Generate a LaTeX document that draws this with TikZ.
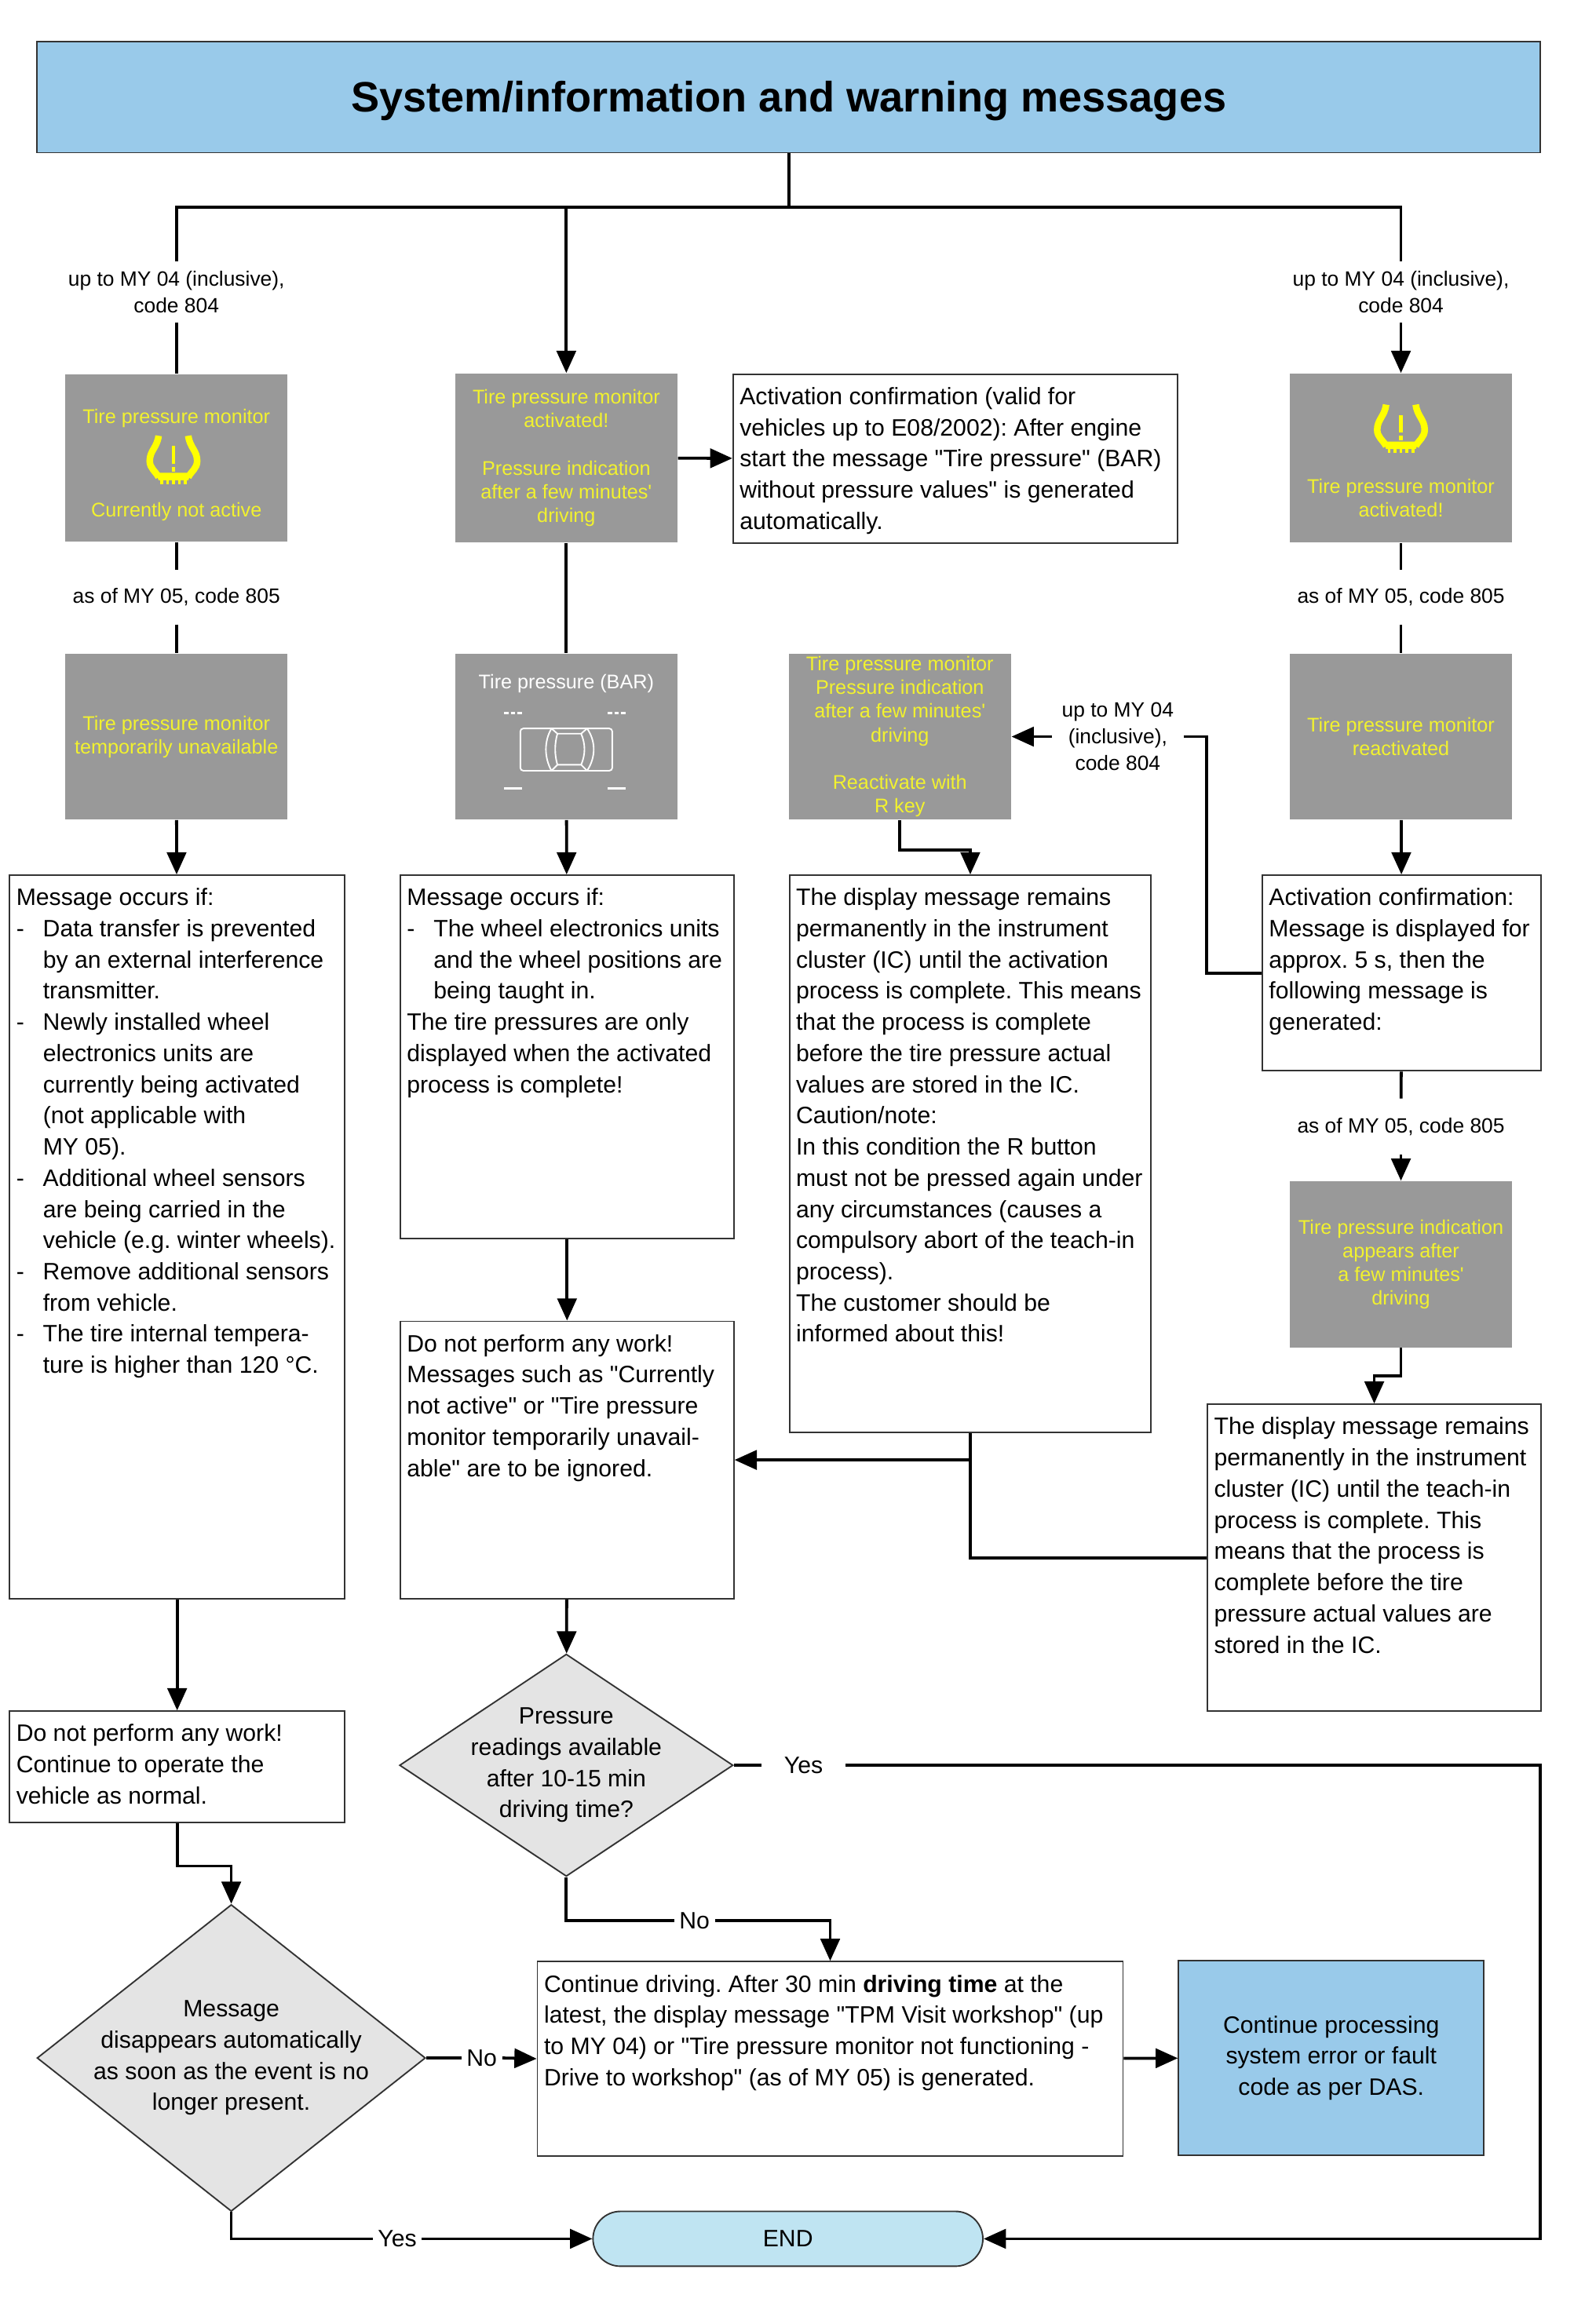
\documentclass[tikz,border=0pt]{standalone}
\usepackage{fontspec}
\setmainfont{Liberation Sans}[Ligatures=TeXOff]
\usetikzlibrary{arrows.meta, shapes.geometric, shapes.misc}

\newlength{\ul}
\setlength{\ul}{0.2mm}
\definecolor{headblue}{HTML}{99CAEA}
\definecolor{endblue}{HTML}{BFE4F2}
\definecolor{screengray}{HTML}{999999}
\definecolor{screenyellow}{HTML}{F2F22E}
\definecolor{iconyellow}{HTML}{FFFF00}
\definecolor{diamondgray}{HTML}{E4E4E4}
\definecolor{edgegray}{HTML}{333333}

\newcommand{\bodyfont}{\fontsize{9.1}{11.97}\selectfont\frenchspacing}
\newcommand{\screenfont}{\fontsize{7.6}{9.07}\selectfont}
\newcommand{\msg}[3]{\parbox[c][\dimexpr#2\ul-10\ul\relax][t]{\dimexpr#1\ul-9\ul\relax}{\raggedright\rule{0pt}{15.5\ul}#3}}
\newcommand{\li}{\makebox[18\ul][l]{-}}
\newcommand{\ind}{\hspace*{18\ul}}

\tikzset{
    link/.style={line width=0.4mm},
    flow/.style={line width=0.4mm, -{Triangle[length=3mm,width=2.6mm]}},
    msgbox/.style={draw=edgegray, line width=1\ul, fill=white, inner xsep=4.5\ul, inner ysep=5\ul, anchor=north west, font=\bodyfont},
    screen/.style={fill=screengray, inner sep=0pt, minimum width=150\ul, minimum height=113\ul, align=center, text=screenyellow, font=\screenfont},
    screentext/.style={inner sep=0pt, align=center, text=screenyellow, font=\screenfont},
    lbl/.style={inner sep=0pt, align=center, fill=white, font=\fontsize{7.95}{10.2}\selectfont},
    edgetext/.style={inner sep=0pt, align=center, font=\bodyfont, minimum height=16\ul},
    decide/.style={diamond, draw=edgegray, line width=1\ul, fill=diamondgray, inner sep=0pt},
    decidetext/.style={inner sep=0pt, align=center, font=\bodyfont},
    tirewarn/.pic={
        \draw[iconyellow, line width=4.5\ul] (-10,-16) .. controls (-11,-8) and (-16,-6) .. (-16,1) .. controls (-16,6) and (-12,8) .. (-10,12);
        \draw[iconyellow, line width=4.5\ul] (10,-16) .. controls (11,-8) and (16,-6) .. (16,1) .. controls (16,6) and (12,8) .. (10,12);
        \fill[iconyellow] (-12,9) -- (12,9) -- (10,14) -- (-10,14) -- cycle;
        \foreach \tx in {-8,-4,0,4,8}
            \fill[iconyellow] (\tx-1,14) rectangle (\tx+1,16.5);
        \fill[iconyellow] (-1.2,-9) rectangle (1.2,3);
        \fill[iconyellow] (-1.2,5) rectangle (1.2,8);
    }
}

\begin{document}
\begin{tikzpicture}[x=0.2mm, y=-0.2mm]
    \useasboundingbox (0,0) rectangle (1061.7,1568);

    % title and top rail
    \node[draw=edgegray, line width=1\ul, fill=headblue, minimum width=1014\ul, minimum height=75\ul, inner sep=0pt, font=\fontsize{16.3}{20}\selectfont\bfseries] (title) at (532,65.5) {\raisebox{-2mm}[0pt][0pt]{System/information and warning messages}};
    \coordinate (hub) at (532,140);

    % left column
    \node[lbl, minimum height=41\ul] (upL) at (119,197) {up to MY 04 (inclusive),\\code 804};
    \node[screen] (notact) at (119,309) {};
    \node[screentext] (notactA) at (119,282) {Tire pressure monitor};
    \node[screentext] (notactB) at (119,345) {Currently not active};
    \pic at (117,310) {tirewarn};
    \node[lbl, minimum height=36\ul] (asL) at (119,403) {as of MY 05, code 805};
    \node[screen, minimum height=112\ul] (unavail) at (119,497) {Tire pressure monitor\\temporarily unavailable};
    \node[msgbox] (occurL) at (6,590) {\msg{226}{488}{Message occurs if:\\
        \li Data transfer is prevented\\
        \ind by an external interference\\
        \ind transmitter.\\
        \li Newly installed wheel\\
        \ind electronics units are\\
        \ind currently being activated\\
        \ind (not applicable with\\
        \ind MY 05).\\
        \li Additional wheel sensors\\
        \ind are being carried in the\\
        \ind vehicle (e.g. winter wheels).\\
        \li Remove additional sensors\\
        \ind from vehicle.\\
        \li The tire internal tempera-\\
        \ind ture is higher than 120 °C.}};
    \node[msgbox] (nowork) at (6,1154) {\msg{226}{75}{Do not perform any work!\\Continue to operate the\\vehicle as normal.}};
    \node[decide, minimum width=262\ul, minimum height=207\ul, label={[decidetext]center:Message\\disappears automatically\\as soon as the event is no\\longer present.}] (gone) at (156,1388.5) {};

    % middle column
    \node[screen, minimum height=114\ul] (activated) at (382,309) {Tire pressure monitor\\activated!\\[9.07pt]Pressure indication\\after a few minutes'\\driving};
    \node[msgbox, minimum height=114\ul] (confirm) at (494,252) {\msg{300}{114}{Activation confirmation (valid for\\vehicles up to E08/2002): After engine\\start the message "Tire pressure" (BAR)\\without pressure values" is generated\\automatically.}};
    \node[screen, minimum height=112\ul] (bar) at (382,497) {};
    \node[screentext, text=white] (barT) at (382,461) {Tire pressure (BAR)};
    % car symbol
    \draw[white, line width=1\ul, rounded corners=2\ul] (351,491.5) rectangle (413,520);
    \draw[white, line width=1\ul] (372,491.5) .. controls (367,500) and (367,511) .. (372,520);
    \draw[white, line width=1\ul] (376,495) .. controls (374,502) and (374,509) .. (376,516);
    \draw[white, line width=1\ul] (396,491.5) .. controls (402,500) and (402,511) .. (396,520);
    \draw[white, line width=1\ul] (392,495) .. controls (395,502) and (395,509) .. (392,516);
    \draw[white, line width=1\ul] (372,491.5) -- (376,495) -- (392,495) -- (396,491.5);
    \draw[white, line width=1\ul] (372,520) -- (376,516) -- (392,516) -- (396,520);
    \foreach \dx in {340,410} {
        \draw[white, line width=1.4\ul, dash pattern=on 3\ul off 1.5\ul] (\dx,481) -- ++(12,0);
        \draw[white, line width=1.4\ul] (\dx,532) -- ++(12,0);
    }
    \node[msgbox] (occurM) at (269.5,590) {\msg{225}{245}{Message occurs if:\\
        \li The wheel electronics units\\
        \ind and the wheel positions are\\
        \ind being taught in.\\
        The tire pressures are only\\displayed when the activated\\process is complete!}};
    \node[msgbox] (ignore) at (269.5,891) {\msg{225}{187}{Do not perform any work!\\Messages such as "Currently\\not active" or "Tire pressure\\monitor temporarily unavail-\\able" are to be ignored.}};
    \node[decide, minimum width=225\ul, minimum height=150\ul, label={[decidetext]center:Pressure\\readings available\\after 10-15 min\\driving time?}] (readings) at (382,1191) {};

    % display message column
    \node[screen, minimum height=112\ul] (rkey) at (607,497) {Tire pressure monitor\\Pressure indication\\after a few minutes'\\driving\\[9.07pt]Reactivate with\\R key};
    \node[lbl, minimum width=88\ul] (upM) at (754,497) {up to MY 04\\(inclusive),\\code 804};
    \node[msgbox] (remainA) at (532,590) {\msg{244}{376}{The display message remains\\permanently in the instrument\\cluster (IC) until the activation\\process is complete. This means\\that the process is complete\\before the tire pressure actual\\values are stored in the IC.\\Caution/note:\\In this condition the R button\\must not be pressed again under\\any circumstances (causes a\\compulsory abort of the teach-in\\process).\\The customer should be\\informed about this!}};

    % right column
    \node[lbl, minimum height=41\ul] (upR) at (945,197) {up to MY 04 (inclusive),\\code 804};
    \node[screen, minimum height=114\ul] (actR) at (945,309) {};
    \pic at (945,289) {tirewarn};
    \node[screentext] (actRT) at (945,336) {Tire pressure monitor\\activated!};
    \node[lbl, minimum height=36\ul] (asR) at (945,403) {as of MY 05, code 805};
    \node[screen, minimum height=112\ul] (react) at (945,497) {Tire pressure monitor\\reactivated};
    \node[msgbox] (confirmR) at (851,590) {\msg{188}{132}{Activation confirmation:\\Message is displayed for\\approx. 5 s, then the\\following message is\\generated:}};
    \node[lbl, minimum height=37\ul] (asS) at (945,760) {as of MY 05, code 805};
    \node[screen, minimum height=112\ul] (appears) at (945,853) {Tire pressure indication\\appears after\\a few minutes'\\driving};
    \node[msgbox] (remainB) at (814,947) {\msg{225}{207}{The display message remains\\permanently in the instrument\\cluster (IC) until the teach-in\\process is complete. This\\means that the process is\\complete before the tire\\pressure actual values are\\stored in the IC.}};

    % bottom row
    \node[msgbox] (drive) at (362,1323) {\msg{395}{131}{Continue driving. After 30 min \textbf{driving time} at the\\latest, the display message "TPM Visit workshop" (up\\to MY 04) or "Tire pressure monitor not functioning -\\Drive to workshop" (as of MY 05) is generated.}};
    \node[draw=edgegray, line width=1\ul, fill=headblue, minimum width=206\ul, minimum height=131\ul, inner sep=0pt, align=center, font=\bodyfont] (das) at (898,1388.5) {Continue processing\\system error or fault\\code as per DAS.};
    \node[rounded rectangle, draw=edgegray, line width=1\ul, fill=endblue, minimum width=263\ul, minimum height=37\ul, inner sep=0pt, font=\bodyfont] (end) at (531.5,1510.5) {END};

    % edge labels
    \node[edgetext, minimum width=56\ul] (yesR) at (542,1191) {Yes};
    \node[edgetext, minimum width=27\ul] (noA) at (468.5,1296) {No};
    \node[edgetext, minimum width=27\ul] (noB) at (325,1388.5) {No};
    \node[edgetext, minimum width=32\ul] (yesB) at (268,1510.5) {Yes};
    \coordinate (rail) at (1039,1350);

    % connectors
    \draw[link] (title.south) -- (hub);
    \draw[link] (hub) -| (upL.north);
    \draw[link] (hub) -| (upR.north);
    \draw[flow] (hub) -| (activated.north);
    \draw[link] (upL) -- (notact);
    \draw[flow] (upR) -- (actR);
    \draw[link] (notact) -- (asL);
    \draw[link] (asL) -- (unavail);
    \draw[flow] (unavail) -- (occurL);
    \draw[flow] (occurL) -- (nowork);
    \draw[flow] (nowork.south) -- ++(0,29) -| (gone.north);
    \draw[flow] (activated) -- (confirm);
    \draw[link] (activated) -- (bar);
    \draw[flow] (bar) -- (occurM);
    \draw[flow] (occurM) -- (ignore);
    \draw[flow] (ignore) -- (readings);
    \draw[flow] (rkey.south) -- ++(0,20) -| (remainA.north);
    \draw[flow] (upM) -- (rkey);
    \draw[link] (confirmR.west) -- ++(-37,0) |- (upM.east);
    \draw[flow] (remainA.south) |- (ignore.east);
    \draw[link] (remainA.south) |- (remainB.west);
    \draw[link] (actR) -- (asR);
    \draw[link] (asR) -- (react);
    \draw[flow] (react) -- (confirmR);
    \draw[link] (confirmR) -- (asS);
    \draw[flow] (asS) -- (appears);
    \draw[flow] (appears.south) -- ++(0,19) -| (remainB.north);
    \draw[link] (readings.east) -- (yesR.west);
    \draw[flow] (yesR.east) -| (rail) |- (end.east);
    \draw[link] (readings.south) |- (noA.west);
    \draw[flow] (noA.east) -| (drive.north);
    \draw[link] (gone.east) -- (noB.west);
    \draw[flow] (noB.east) -- (drive.west);
    \draw[flow] (drive) -- (das);
    \draw[link] (gone.south) |- (yesB.west);
    \draw[flow] (yesB.east) -- (end.west);
\end{tikzpicture}
\end{document}
